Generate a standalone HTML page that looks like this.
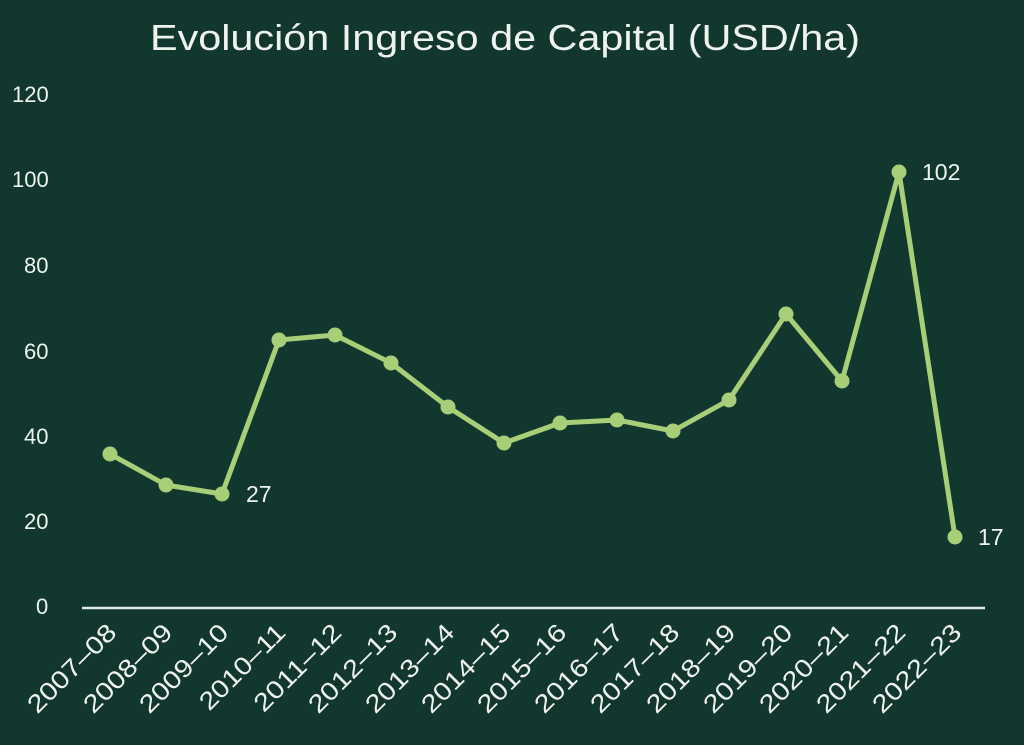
<!DOCTYPE html>
<html><head><meta charset="utf-8"><style>
html,body{margin:0;padding:0;background:#12372f;}
svg{display:block}
text{font-family:"Liberation Sans","DejaVu Sans",sans-serif;fill:#eef3ee}
</style></head><body>
<svg width="1024" height="745" viewBox="0 0 1024 745" xmlns="http://www.w3.org/2000/svg">
<rect width="1024" height="745" fill="#12372f"/>
<text x="505" y="50" font-size="36" text-anchor="middle" textLength="710" lengthAdjust="spacingAndGlyphs">Evolución Ingreso de Capital (USD/ha)</text>
<g font-size="22">
<text x="12" y="102">120</text>
<text x="12" y="187">100</text>
<text x="24" y="273">80</text>
<text x="24" y="359">60</text>
<text x="24" y="444">40</text>
<text x="24" y="529">20</text>
<text x="36" y="614">0</text>
</g>
<line x1="82" y1="608" x2="985" y2="608" stroke="#dfe9e0" stroke-width="2.5"/>
<polyline fill="none" stroke="#a8cf78" stroke-width="5" stroke-linejoin="round"
points="110,454 166,485 222,494 279,340 335,335 391,363 448,407 504,443 560,423 617,420 673,431 729,400 786,314 842,381 899,172 955,537"/>
<g fill="#a8cf78">
<circle cx="110" cy="454" r="7.5"/><circle cx="166" cy="485" r="7.5"/><circle cx="222" cy="494" r="7.5"/><circle cx="279" cy="340" r="7.5"/><circle cx="335" cy="335" r="7.5"/><circle cx="391" cy="363" r="7.5"/><circle cx="448" cy="407" r="7.5"/><circle cx="504" cy="443" r="7.5"/><circle cx="560" cy="423" r="7.5"/><circle cx="617" cy="420" r="7.5"/><circle cx="673" cy="431" r="7.5"/><circle cx="729" cy="400" r="7.5"/><circle cx="786" cy="314" r="7.5"/><circle cx="842" cy="381" r="7.5"/><circle cx="899" cy="172" r="7.5"/><circle cx="955" cy="537" r="7.5"/>
</g>
<g font-size="23">
<text x="246" y="502">27</text>
<text x="922" y="180">102</text>
<text x="978" y="545">17</text>
</g>
<g font-size="25" text-anchor="end">
<text transform="translate(118,634) rotate(-45)" textLength="114" lengthAdjust="spacingAndGlyphs">2007–08</text>
<text transform="translate(174,634) rotate(-45)" textLength="114" lengthAdjust="spacingAndGlyphs">2008–09</text>
<text transform="translate(230,634) rotate(-45)" textLength="114" lengthAdjust="spacingAndGlyphs">2009–10</text>
<text transform="translate(287,634) rotate(-45)" textLength="110" lengthAdjust="spacingAndGlyphs">2010–11</text>
<text transform="translate(343,634) rotate(-45)" textLength="112" lengthAdjust="spacingAndGlyphs">2011–12</text>
<text transform="translate(399,634) rotate(-45)" textLength="114" lengthAdjust="spacingAndGlyphs">2012–13</text>
<text transform="translate(456,634) rotate(-45)" textLength="114" lengthAdjust="spacingAndGlyphs">2013–14</text>
<text transform="translate(512,634) rotate(-45)" textLength="114" lengthAdjust="spacingAndGlyphs">2014–15</text>
<text transform="translate(568,634) rotate(-45)" textLength="114" lengthAdjust="spacingAndGlyphs">2015–16</text>
<text transform="translate(625,634) rotate(-45)" textLength="114" lengthAdjust="spacingAndGlyphs">2016–17</text>
<text transform="translate(681,634) rotate(-45)" textLength="114" lengthAdjust="spacingAndGlyphs">2017–18</text>
<text transform="translate(737,634) rotate(-45)" textLength="114" lengthAdjust="spacingAndGlyphs">2018–19</text>
<text transform="translate(794,634) rotate(-45)" textLength="114" lengthAdjust="spacingAndGlyphs">2019–20</text>
<text transform="translate(850,634) rotate(-45)" textLength="114" lengthAdjust="spacingAndGlyphs">2020–21</text>
<text transform="translate(907,634) rotate(-45)" textLength="114" lengthAdjust="spacingAndGlyphs">2021–22</text>
<text transform="translate(963,634) rotate(-45)" textLength="114" lengthAdjust="spacingAndGlyphs">2022–23</text>
</g>
</svg>
</body></html>
